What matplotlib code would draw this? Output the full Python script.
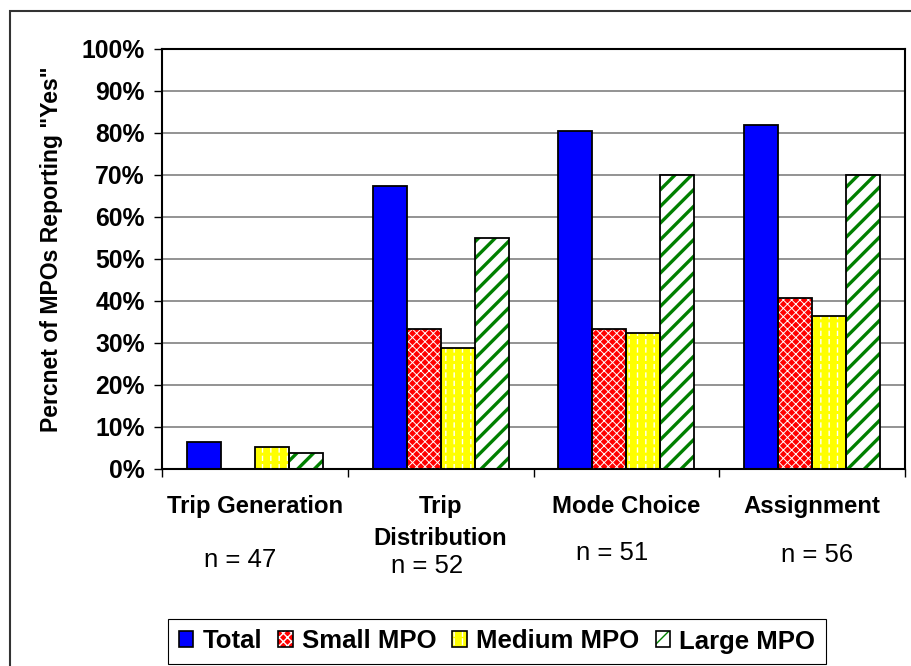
import matplotlib
matplotlib.use("Agg")
import matplotlib.pyplot as plt
from matplotlib.patches import Patch, Rectangle
from matplotlib.legend_handler import HandlerTuple
import numpy as np

plt.rcParams['font.family'] = ['Liberation Sans', 'DejaVu Sans']

categories = ["Trip Generation", "Trip\nDistribution", "Mode Choice", "Assignment"]
n_labels = ["n = 47", "n = 52", "n = 51", "n = 56"]
series = ["Total", "Small MPO", "Medium MPO", "Large MPO"]
total = [6.4, 67.3, 80.4, 82.0]
small = [0.0, 33.3, 33.3, 40.7]
medium = [5.3, 28.8, 32.4, 36.5]
large = [3.9, 55.0, 70.0, 70.0]
yticks = np.arange(0, 101, 10)

W, H = 911, 666
fig = plt.figure(figsize=(W / 100, H / 100), dpi=100)
ax = fig.add_axes([162 / W, 1 - 469 / H, 743 / W, 420 / H])


def hlw(p, lw):
    if hasattr(p, "set_hatch_linewidth"):
        p.set_hatch_linewidth(lw)


# style per series: base colour, list of (hatch, hatch colour, hatch width)
styles = [
    ("#0000FF", []),
    ("#FF0000", [("xxxx", "white", 0.7)]),
    ("#FFFF00", [("||", "white", 1.0), ("--", "#FFFF00", 2.2)]),
    ("white", [("//", "#008000", 2.4)]),
]

x = np.arange(len(categories))
w = 0.183
data = [total, small, medium, large]
for i, vals in enumerate(data):
    pos = x + (i - 1.5) * w
    color, hatches = styles[i]
    ax.bar(pos, vals, w, color=color, edgecolor="none", linewidth=0, zorder=2)
    for hp, hc, lw in hatches:
        with plt.rc_context({"hatch.linewidth": lw}):
            bb = ax.bar(pos, vals, w, facecolor="none", edgecolor=hc,
                        hatch=hp, linewidth=0, zorder=3)
        for p in bb:
            hlw(p, lw)
    ax.bar(pos, vals, w, facecolor="none", edgecolor="black",
           linewidth=1.3, zorder=4)

ax.set_xlim(-0.5, 3.5)
ax.set_ylim(0, 100)
ax.set_yticks(yticks)
ax.set_yticklabels([f"{v}%" for v in yticks], fontsize=17.8, fontweight="bold")
ax.set_xticks(np.arange(-0.5, 4, 1))
ax.set_xticklabels([])
ax.tick_params(axis="y", direction="out", length=6, width=1, pad=6.5)
ax.tick_params(axis="x", direction="out", length=6, width=1)
ax.yaxis.grid(True, color="#808080", linewidth=1.2, zorder=0)
ax.set_axisbelow(True)
for s in ax.spines.values():
    s.set_linewidth(1.5)
    s.set_color("black")

# category labels under axis
for xi, lab in zip(x, categories):
    for j, line in enumerate(lab.split("\n")):
        ax.text(xi, 1 - (513 + 32 * j - 49) / 420, line, transform=ax.get_xaxis_transform(),
                ha="center", va="baseline", fontsize=17.2, fontweight="bold")

# n labels (free text boxes)
n_pos = [(240, 567), (427, 573), (612, 560), (817, 562)]
for (px, py), lab in zip(n_pos, n_labels):
    fig.text(px / W, 1 - py / H, lab, ha="center", va="baseline", fontsize=18.5)

fig.text(52 / W, 1 - 249 / H, 'Percnet of MPOs Reporting "Yes"', rotation=90,
         ha="center", va="center", fontsize=16.6, fontweight="bold")

# legend
handles = []
for color, hatches in styles:
    parts = [Patch(facecolor=color, edgecolor="none", linewidth=0)]
    for hp, hc, lw in hatches:
        with plt.rc_context({"hatch.linewidth": lw * 0.6}):
            pp = Patch(facecolor="none", edgecolor=hc, hatch=hp, linewidth=0)
        hlw(pp, lw * 0.6)
        parts.append(pp)
    parts.append(Patch(facecolor="none", edgecolor="black", linewidth=1.2))
    handles.append(tuple(parts))

leg = fig.legend(handles, series, loc="center", bbox_to_anchor=(497 / W, 1 - 641.5 / H),
                 ncol=4, frameon=True, fancybox=False, framealpha=1,
                 handler_map={tuple: HandlerTuple(ndivide=1, pad=0)},
                 prop={"size": 18.5, "weight": "bold"},
                 handlelength=0.58, handleheight=0.58, handletextpad=0.35,
                 columnspacing=0.62, borderpad=0.42, borderaxespad=0)
leg.get_frame().set_edgecolor("black")
leg.get_frame().set_linewidth(0.8)

# outer chart border
fig.patches.append(Rectangle((10 / W, -0.1), 1.2, 1.1 - 11 / H, transform=fig.transFigure,
                             fill=False, edgecolor="#333333", linewidth=1.5))

fig.savefig("out.png", dpi=100)
